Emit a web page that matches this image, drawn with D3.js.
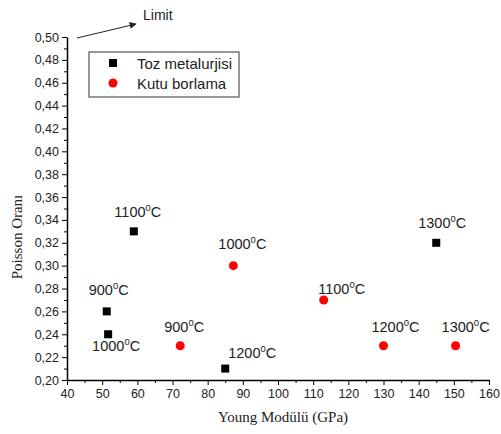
<!DOCTYPE html>
<html>
<head>
<meta charset="utf-8">
<script src="https://cdn.jsdelivr.net/npm/d3@7"></script>
<style>
  body { margin: 0; background: #fff; }
  .axis text { font-family: "Liberation Sans", Arial, sans-serif; font-size: 12.5px; fill: #222; }
  .axis path, .axis line { stroke: #000; }
</style>
</head>
<body>
<div id="chart"></div>
<script>
// Toz metalurjisi (black squares)
const tozX = [51.3, 51.7, 59, 85, 145];
const tozY = [0.26, 0.24, 0.33, 0.21, 0.32];
const tozLabels = ["900", "1000", "1100", "1200", "1300"];

// Kutu borlama (red circles)
const kutuX = [72.2, 87.3, 113, 130, 150.5];
const kutuY = [0.23, 0.30, 0.27, 0.23, 0.23];
const kutuLabels = ["900", "1000", "1100", "1200", "1300"];

const xTicks = d3.range(40, 161, 10);
const yTicks = d3.range(0.20, 0.5001, 0.02);

const width = 501, height = 434;
const margin = { top: 37, right: 12, bottom: 54, left: 67 };

const svg = d3.select("#chart").append("svg")
    .attr("width", width)
    .attr("height", height);

const xScale = d3.scaleLinear()
    .domain([40, 160])
    .range([margin.left, width - margin.right]);
const yScale = d3.scaleLinear()
    .domain([0.20, 0.50])
    .range([height - margin.bottom, margin.top]);

const fmt = d => d3.format(".2f")(d).replace(".", ",");

// minor ticks
svg.append("g")
    .attr("class", "axis")
    .attr("transform", `translate(0, ${height - margin.bottom})`)
    .call(d3.axisBottom(xScale).tickValues(d3.range(45, 160, 10)).tickSize(3).tickFormat(""))
    .select(".domain").remove();
svg.append("g")
    .attr("class", "axis")
    .attr("transform", `translate(${margin.left}, 0)`)
    .call(d3.axisLeft(yScale).tickValues(d3.range(0.21, 0.50, 0.02)).tickSize(3).tickFormat(""))
    .select(".domain").remove();

// major axes
svg.append("g")
    .attr("class", "axis")
    .attr("transform", `translate(0, ${height - margin.bottom})`)
    .call(d3.axisBottom(xScale).tickValues(xTicks).tickSize(5).tickSizeOuter(0).tickPadding(4))
    .select(".domain").attr("stroke-width", 1.5);
svg.append("g")
    .attr("class", "axis")
    .attr("transform", `translate(${margin.left}, 0)`)
    .call(d3.axisLeft(yScale).tickValues(yTicks).tickFormat(fmt).tickSize(5).tickSizeOuter(0).tickPadding(3))
    .select(".domain").attr("stroke-width", 1.5);

// axis titles
svg.append("text")
    .attr("x", 283)
    .attr("y", height - 12)
    .attr("text-anchor", "middle")
    .attr("font-family", "Liberation Serif, Times New Roman, serif")
    .attr("font-size", 15)
    .attr("fill", "#222")
    .text("Young Modülü (GPa)");
svg.append("text")
    .attr("transform", `translate(22, 237) rotate(-90)`)
    .attr("text-anchor", "middle")
    .attr("font-family", "Liberation Serif, Times New Roman, serif")
    .attr("font-size", 15)
    .attr("fill", "#222")
    .text("Poisson Oranı");

// points
const toz = tozX.map((x, i) => ({ x, y: tozY[i], t: tozLabels[i] }));
const kutu = kutuX.map((x, i) => ({ x, y: kutuY[i], t: kutuLabels[i] }));

svg.selectAll(".sq").data(toz).enter().append("rect")
    .attr("x", d => xScale(d.x) - 4)
    .attr("y", d => yScale(d.y) - 4)
    .attr("width", 8).attr("height", 8)
    .attr("fill", "#000");

svg.selectAll(".ci").data(kutu).enter().append("circle")
    .attr("cx", d => xScale(d.x))
    .attr("cy", d => yScale(d.y))
    .attr("r", 4.5)
    .attr("fill", "#f00");

// point labels: offsets relative to the marker
const tozOff = [[2, -16], [8, 17], [4, -14], [27, -11], [6, -15]];
const kutuOff = [[4, -14], [9, -17], [18, -6], [12, -14], [10, -14]];

function addLabel(d, off) {
    const t = svg.append("text")
        .attr("x", xScale(d.x) + off[0])
        .attr("y", yScale(d.y) + off[1])
        .attr("text-anchor", "middle")
        .attr("font-family", "Liberation Sans, Arial, sans-serif")
        .attr("font-size", 14.5)
        .attr("fill", "#222");
    t.append("tspan").text(d.t);
    t.append("tspan").attr("font-size", 9.5).attr("dy", -6).text("0");
    t.append("tspan").attr("dy", 6).text("C");
}
toz.forEach((d, i) => addLabel(d, tozOff[i]));
kutu.forEach((d, i) => addLabel(d, kutuOff[i]));

// legend
const lg = svg.append("g");
lg.append("rect")
    .attr("x", 89).attr("y", 52).attr("width", 150).attr("height", 45)
    .attr("fill", "#fff").attr("stroke", "#333").attr("stroke-width", 1);
lg.append("rect").attr("x", 109).attr("y", 59).attr("width", 8).attr("height", 8).attr("fill", "#000");
lg.append("circle").attr("cx", 113).attr("cy", 83).attr("r", 4.5).attr("fill", "#f00");
lg.append("text").attr("x", 137).attr("y", 69)
    .attr("font-family", "Liberation Sans, Arial, sans-serif").attr("font-size", 15).attr("fill", "#222")
    .text("Toz metalurjisi");
lg.append("text").attr("x", 137).attr("y", 89)
    .attr("font-family", "Liberation Sans, Arial, sans-serif").attr("font-size", 15).attr("fill", "#222")
    .text("Kutu borlama");

// limit arrow
svg.append("defs").append("marker")
    .attr("id", "arr").attr("viewBox", "0 0 10 10")
    .attr("refX", 9).attr("refY", 5)
    .attr("markerWidth", 9).attr("markerHeight", 7)
    .attr("markerUnits", "userSpaceOnUse")
    .attr("orient", "auto")
    .append("path").attr("d", "M0,0 L10,5 L0,10 z").attr("fill", "#222");
svg.append("line")
    .attr("x1", 77).attr("y1", 38).attr("x2", 136).attr("y2", 24)
    .attr("stroke", "#222").attr("stroke-width", 1)
    .attr("marker-end", "url(#arr)");
svg.append("text")
    .attr("x", 143).attr("y", 20)
    .attr("font-family", "Liberation Sans, Arial, sans-serif").attr("font-size", 14).attr("fill", "#222")
    .text("Limit");
</script>
</body>
</html>
